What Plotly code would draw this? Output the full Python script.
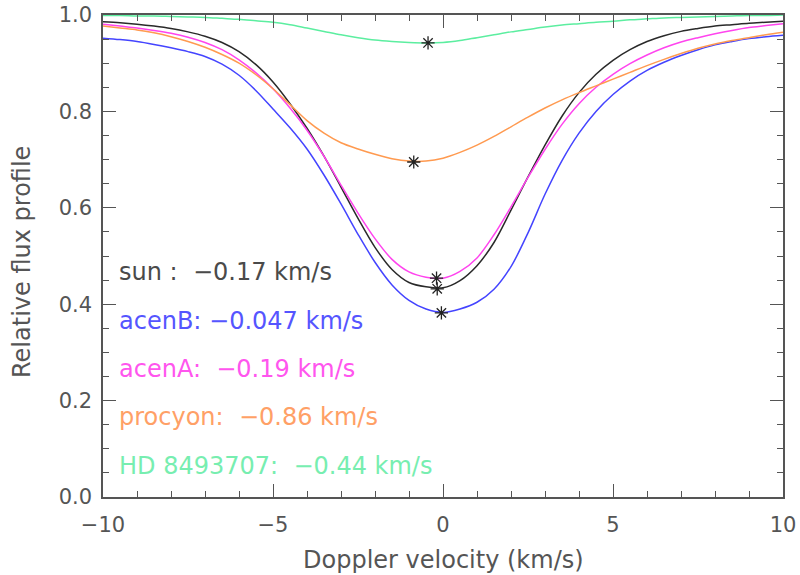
import plotly.graph_objects as go

# ---- data ----
velocity = [-10, -9.5, -9, -8.5, -8, -7.5, -7, -6.5, -6, -5.5, -5, -4.5, -4, -3.5, -3, -2.5,
            -2, -1.5, -1, -0.5, 0, 0.5, 1, 1.5, 2, 2.5, 3, 3.5, 4, 4.5, 5, 5.5, 6, 6.5,
            7, 7.5, 8, 8.5, 9, 9.5, 10]

sun = [0.986, 0.984, 0.981, 0.977, 0.972, 0.965, 0.956, 0.943, 0.924, 0.897, 0.861, 0.816,
       0.765, 0.707, 0.643, 0.578, 0.518, 0.472, 0.445, 0.436, 0.434, 0.449, 0.480, 0.528,
       0.595, 0.664, 0.730, 0.790, 0.839, 0.877, 0.906, 0.928, 0.945, 0.957, 0.966, 0.972,
       0.977, 0.980, 0.983, 0.985, 0.987]
acenB = [0.952, 0.949, 0.945, 0.939, 0.932, 0.924, 0.914, 0.898, 0.875, 0.843, 0.805, 0.766,
         0.722, 0.668, 0.608, 0.545, 0.487, 0.440, 0.408, 0.390, 0.383, 0.390, 0.404, 0.431,
         0.478, 0.548, 0.628, 0.698, 0.755, 0.800, 0.835, 0.863, 0.885, 0.902, 0.916, 0.928,
         0.938, 0.945, 0.951, 0.955, 0.958]
acenA = [0.981, 0.977, 0.973, 0.968, 0.962, 0.954, 0.943, 0.928, 0.907, 0.880, 0.847, 0.807,
         0.761, 0.707, 0.647, 0.589, 0.536, 0.493, 0.467, 0.456, 0.454, 0.468, 0.496, 0.544,
         0.602, 0.663, 0.721, 0.773, 0.816, 0.850, 0.877, 0.899, 0.917, 0.932, 0.944, 0.953,
         0.961, 0.968, 0.974, 0.978, 0.982]
procyon = [0.977, 0.973, 0.969, 0.963, 0.955, 0.945, 0.933, 0.918, 0.900, 0.876, 0.847, 0.814,
           0.781, 0.755, 0.735, 0.722, 0.711, 0.702, 0.697, 0.697, 0.703, 0.715, 0.730, 0.748,
           0.768, 0.788, 0.807, 0.824, 0.839, 0.853, 0.867, 0.881, 0.895, 0.908, 0.920, 0.931,
           0.940, 0.947, 0.953, 0.959, 0.964]
hd8493707 = [0.999, 0.999, 0.998, 0.998, 0.997, 0.996, 0.995, 0.993, 0.991, 0.988, 0.985,
             0.980, 0.973, 0.966, 0.959, 0.953, 0.948, 0.945, 0.943, 0.942, 0.943, 0.947,
             0.953, 0.959, 0.965, 0.970, 0.975, 0.979, 0.982, 0.985, 0.987, 0.990, 0.992,
             0.994, 0.995, 0.996, 0.997, 0.998, 0.999, 0.999, 1.000]

star_names = ["sun", "acenB", "acenA", "procyon", "HD 8493707"]
label_texts = ["sun :\u00a0\u00a0\u22120.17 km/s",
               "acenB: \u22120.047 km/s",
               "acenA:\u00a0\u00a0\u22120.19 km/s",
               "procyon:\u00a0\u00a0\u22120.86 km/s",
               "HD 8493707:\u00a0\u00a0\u22120.44 km/s"]
min_velocity = [-0.17, -0.047, -0.19, -0.86, -0.44]
min_flux = [0.432, 0.382, 0.454, 0.695, 0.942]

x_title = "Doppler velocity (km/s)"
y_title = "Relative flux profile"

profiles = [sun, acenB, acenA, procyon, hd8493707]
colors = ["#2a2a2a", "#4444ff", "#ff44ee", "#ff9a50", "#5ceea0"]
text_colors = ["#4a4a4a", "#5555ff", "#ff55ee", "#ffa066", "#77eeb0"]

fig = go.Figure()
for name, prof, col in zip(star_names, profiles, colors):
    fig.add_trace(go.Scatter(x=velocity, y=prof, mode="lines", name=name,
                             line=dict(color=col, width=1.5, shape="spline", smoothing=0.9)))

fig.add_trace(go.Scatter(x=min_velocity, y=min_flux, mode="markers",
                         marker=dict(symbol="asterisk-open", size=11, color="#222222",
                                     line=dict(color="#222222", width=1.3)),
                         showlegend=False, cliponaxis=False))

label_x = -9.6
label_y = [0.466, 0.365, 0.265, 0.165, 0.064]
for txt, ly, tc in zip(label_texts, label_y, text_colors):
    fig.add_annotation(x=label_x, y=ly, xref="x", yref="y", text=txt, showarrow=False,
                       xanchor="left", yanchor="middle",
                       font=dict(family="DejaVu Sans", size=24, color=tc))

axis_col = "#555555"
tick_font = dict(family="DejaVu Sans", size=21, color="#555555")
title_font = dict(family="DejaVu Sans", size=24, color="#555555")

# axis titles as annotations so the plot area stays fixed
fig.add_annotation(x=0.5, y=0, xref="paper", yref="paper", text=x_title, showarrow=False,
                   xanchor="center", yanchor="middle", yshift=-63, font=title_font)
fig.add_annotation(x=0, y=0.5, xref="paper", yref="paper", text=y_title, showarrow=False,
                   xanchor="center", yanchor="middle", xshift=-81, yshift=-6,
                   textangle=-90, font=title_font)

fig.update_xaxes(range=[-10, 10], tick0=0, dtick=5, ticks="inside", ticklen=13, tickwidth=1.3,
                 tickcolor=axis_col, showline=True, linecolor=axis_col, linewidth=1.5,
                 mirror="ticks", showgrid=False, zeroline=False, tickfont=tick_font,
                 automargin=False, ticklabelstandoff=8,
                 minor=dict(dtick=1, ticks="inside", ticklen=6, tickwidth=1.3,
                            tickcolor=axis_col, showgrid=False))
fig.update_yaxes(range=[0, 1.0], tick0=0, dtick=0.2, tickformat=".1f", ticks="inside",
                 ticklen=13, tickwidth=1.3, tickcolor=axis_col, showline=True,
                 linecolor=axis_col, linewidth=1.5, mirror="ticks", showgrid=False,
                 zeroline=False, tickfont=tick_font, automargin=False, ticklabelstandoff=5,
                 minor=dict(dtick=0.05, ticks="inside", ticklen=6, tickwidth=1.3,
                            tickcolor=axis_col, showgrid=False))

fig.update_layout(width=800, height=575, margin=dict(l=103, r=17, t=15, b=78),
                  paper_bgcolor="white", plot_bgcolor="white", showlegend=False)

fig.write_html("out.html")
